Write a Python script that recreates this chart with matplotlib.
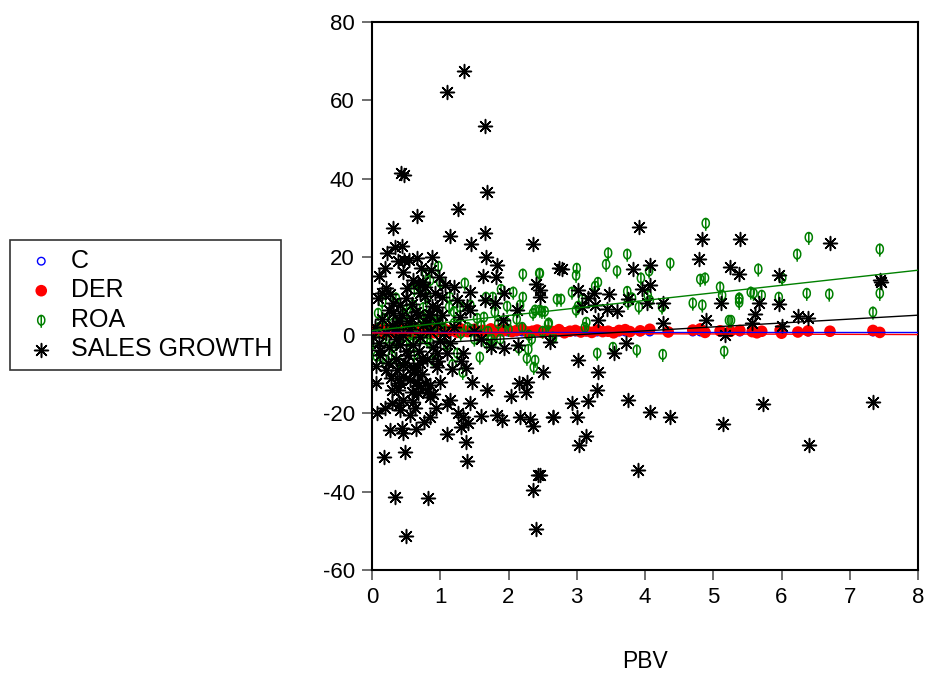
import matplotlib
matplotlib.use("Agg")
import matplotlib.pyplot as plt
from matplotlib.path import Path
import numpy as np

plt.rcParams["font.family"] = ["Liberation Sans", "DejaVu Sans"]
plt.rcParams["axes.unicode_minus"] = False

# ---- data ----
sg_pbv = [
    1.35, 1.10, 1.66, 1.68, 0.42, 0.47, 1.26, 0.66, 1.14, 1.66, 1.45, 2.36, 0.31, 0.34, 0.44,
    0.22, 0.47, 0.66, 0.88, 1.67, 0.19, 0.38, 0.54, 0.45, 0.72, 0.86, 1.83, 0.10, 0.98, 1.63,
    1.82, 0.67, 0.78, 1.07, 1.20, 2.40, 2.46, 2.74, 0.21, 0.15, 0.09, 0.70, 0.92, 1.44, 1.93,
    1.03, 1.25, 0.31, 0.41, 1.66, 1.80, 0.95, 1.39, 0.31, 0.44, 0.67, 0.85, 1.03, 1.29, 1.44,
    2.12, 1.92, 0.56, 0.81, 2.61, 0.02,
    3.91, 4.84, 5.39, 4.79, 2.78, 3.82, 4.07, 5.25, 5.38, 3.02, 3.47, 3.25, 3.96, 4.07, 3.75,
    3.16, 3.08, 3.27, 3.44, 3.59, 4.03, 4.26, 5.11, 2.46, 3.31, 4.26, 4.89, 3.72, 5.17, 3.55,
    3.02, 3.31, 2.51, 3.30, 2.93, 3.16, 3.75, 2.65, 3.00, 4.07, 4.37, 5.14, 3.14, 3.03, 3.90,
    2.46,
    6.71, 5.96, 7.46, 7.44, 5.67, 5.96, 5.61, 5.57, 6.24, 6.39, 6.01, 5.73, 7.34, 6.40,
    0.41, 0.12, 0.53, 0.73, 0.95, 1.10, 1.33, 1.74, 1.93, 2.14, 0.06, 0.23, 0.37, 0.45, 0.60,
    0.70, 0.95, 1.17, 1.38, 0.06, 0.28, 0.41, 0.56, 0.66, 0.78, 0.85, 1.47, 1.69, 2.15, 2.27,
    2.26, 2.04, 0.38, 0.59, 0.67, 0.81, 0.85, 0.45, 0.60, 0.29, 0.40, 1.14, 1.44, 0.07, 0.19,
    0.41, 0.63, 0.76, 0.94, 1.26, 1.33, 1.41, 1.60, 1.83, 1.90, 2.17, 2.32, 2.36, 2.65, 0.26,
    0.44, 0.45, 1.10, 1.30, 1.38, 0.18, 0.48, 1.39, 2.43, 0.34, 0.82, 2.36, 0.50, 2.40,
    0.05, 0.10, 0.15, 0.20, 0.25, 0.30, 0.35, 0.40, 0.45, 0.50, 0.55, 0.60, 0.65, 0.70, 0.75,
    0.80, 0.85, 0.90, 0.95, 1.00, 1.05, 1.15, 1.20, 1.30, 1.50, 1.60, 0.58, 0.62, 0.50, 0.73,
    0.35, 0.25, 0.12, 0.88, 0.52, 0.60, 0.78, 0.45, 0.68, 0.90, 1.00, 0.55, 0.65, 0.85, 0.30,
    0.20, 1.10, 0.33, 0.48, 0.57, 0.69, 0.83, 0.97, 0.27, 0.39, 0.62, 0.75,
]
sg = [
    67.5, 62.0, 53.4, 36.5, 41.4, 40.9, 32.2, 30.4, 25.3, 26.0, 23.2, 23.2, 27.3, 22.5, 22.7,
    21.0, 19.2, 19.7, 19.9, 19.9, 17.1, 18.9, 19.2, 16.1, 17.1, 16.6, 17.9, 15.1, 14.8, 15.1,
    14.8, 13.3, 12.3, 12.8, 12.3, 13.0, 11.5, 17.1, 12.0, 10.7, 9.5, 10.7, 10.7, 11.0, 10.7,
    9.7, 8.9, 8.2, 7.7, 8.9, 8.2, 7.2, 7.4, 5.6, 5.1, 5.1, 5.1, 5.1, 4.6, 6.4,
    6.4, 3.8, 3.1, 3.1, -1.8, -0.5,
    27.6, 24.5, 24.5, 19.4, 17.0, 16.8, 18.0, 17.4, 15.6, 11.5, 10.4, 10.7, 11.8, 12.8, 9.2,
    9.5, 7.2, 7.7, 6.6, 6.1, 8.2, 8.2, 8.2, 9.7, 3.8, 3.0, 3.8, -2.0, 0.0, -4.6,
    -6.4, -9.5, -9.5, -14.0, -17.4, -16.9, -16.6, -20.9, -20.9, -19.7, -20.9, -22.7, -25.8, -28.1, -34.5,
    -35.8,
    23.5, 15.3, 13.5, 14.2, 8.2, 7.9, 5.4, 3.1, 4.9, 4.3, 2.3, -17.6, -17.1, -28.1,
    -2.6, -3.8, -5.1, -5.9, -4.6, -4.6, -4.6, -3.1, -3.3, -2.6, -7.9, -7.2, -8.9, -7.7, -8.2,
    -7.2, -8.2, -8.7, -8.4, -12.3, -11.0, -12.3, -11.5, -12.0, -12.3, -12.8, -12.0, -14.0, -12.3, -12.0,
    -14.6, -15.6, -14.0, -14.6, -14.8, -14.6, -15.8, -16.6, -17.1, -17.4, -17.9, -16.6, -17.4, -19.9, -18.7,
    -19.2, -18.7, -22.2, -18.7, -19.9, -20.9, -22.5, -20.7, -20.4, -21.7, -20.9, -21.5, -23.2, -20.9, -24.3,
    -23.8, -25.0, -25.3, -23.5, -27.3, -31.2, -29.9, -32.2, -35.8, -41.4, -41.6, -39.6, -51.4, -49.6,
    2.0, -2.0, 4.0, 0.5, -3.0, 2.5, -1.0, 3.5, 0.0, -4.0, 1.5, -2.5, 6.0, -0.5, 2.5,
    -6.0, 1.0, -3.0, 3.0, -1.5, 0.5, -2.0, 2.0, -6.5, 1.0, -1.0, 8.0, -9.0, 9.5, -10.0,
    -6.0, 6.5, -5.0, 7.5, 12.0, 14.0, 10.0, -10.5, -13.0, -15.0, -12.0, -20.5, -24.0, -21.0, -14.0,
    -9.0, -17.5, 1.5, -7.0, 4.5, -4.0, 5.5, -6.5, 10.5, -11.5, -9.5, 13.5,
]

roa_pbv = [
    4.89, 3.46, 3.74, 4.37, 3.43, 3.00, 2.99, 3.59, 4.06, 3.94, 4.81, 4.88, 3.31, 3.27, 3.74,
    2.93, 2.77, 3.08, 3.81, 4.04, 4.07, 5.10, 5.13, 5.38, 3.02, 3.75, 3.91, 4.25, 4.70, 4.84,
    2.99, 2.49, 2.53, 3.14, 3.12, 5.23, 2.58, 2.65, 3.53, 3.30, 3.88, 4.26, 5.16, 2.46,
    6.40, 6.23, 7.44, 5.66, 6.01, 7.44, 7.34, 6.37, 6.70, 5.55, 5.59, 5.71, 5.38, 5.38, 5.96,
    5.26,
    0.97, 2.21, 2.45, 1.36, 1.89, 0.62, 0.79, 0.85, 1.14, 1.29, 0.60, 0.81, 1.67, 1.77, 2.21,
    1.98, 2.17, 1.44, 1.13, 1.64, 1.80, 2.39, 2.46, 2.36, 0.09, 0.18, 0.47, 0.81, 1.03, 1.54,
    1.98, 2.71, 2.59, 0.31, 2.12, 0.51, 2.07,
    0.07, 0.16, 0.29, 1.00, 1.25, 1.33, 1.58, 1.68, 1.77, 2.15, 2.29, 2.27, 2.39, 2.37, 2.34,
    0.02, 0.56, 0.81, 1.88, 2.65, 0.37, 0.56,
    0.05, 0.10, 0.20, 0.25, 0.30, 0.35, 0.40, 0.45, 0.50, 0.55, 0.60, 0.65, 0.70, 0.75, 0.80,
    0.85, 0.90, 0.95, 1.05, 1.10, 1.20, 1.30, 1.40, 1.50, 1.60, 1.70, 1.85, 2.00, 2.20, 2.30,
    0.15, 0.35, 0.70, 0.75, 1.00, 1.20, 0.90, 0.62, 0.40, 1.18, 1.45, 1.75, 2.50,
]
roa = [
    28.6, 21.0, 20.7, 18.4, 18.1, 17.1, 15.3, 16.4, 16.4, 14.6, 14.3, 14.6, 13.5, 12.5, 11.2,
    11.0, 9.2, 9.2, 9.5, 10.2, 8.9, 12.3, 10.2, 9.2, 7.4, 8.4, 7.2, 7.2, 8.2, 7.7,
    6.4, 6.1, 6.1, 3.3, 2.0, 3.8, 2.8, -0.5, -3.1, -4.6, -3.8, -4.9, -4.1, 15.8,
    25.0, 20.7, 22.0, 16.9, 14.6, 10.7, 5.9, 10.7, 10.5, 11.0, 10.7, 10.2, 9.5, 8.4, 9.7,
    3.8,
    17.6, 15.6, 15.8, 13.3, 11.7, 11.7, 15.6, 14.0, 9.7, 7.2, 7.7, 9.7, 9.7, 9.7, 9.7,
    7.4, 7.7, 7.7, 7.2, 4.6, 5.9, 6.4, 6.4, 5.6, 5.6, 4.3, 5.6, 3.8, 3.8, 4.3,
    3.1, 9.2, 3.1, 3.1, 4.1, 6.6, 11.0,
    -5.4, -5.9, -5.1, -0.5, -4.6, -9.5, -5.6, -2.0, -2.0, -3.3, -3.6, -5.9, -6.4, -8.2, -1.0,
    -1.8, -1.8, -1.3, -1.0, -0.8, -2.0, -3.1,
    0.5, 2.0, -1.0, 1.5, -3.0, 0.5, 2.5, -0.5, 1.0, 3.5, 0.0, 2.0, -1.0, 4.5, 1.0,
    -2.0, 2.5, 5.5, 1.5, -2.5, 3.0, 0.5, 2.0, -1.0, 2.5, 1.0, 3.0, 1.5, 2.0, 0.0,
    8.5, 9.5, 12.5, 7.0, 13.5, 6.0, -6.5, -5.0, -7.0, -7.5, 1.5, -1.0, 1.0,
]

der_pbv = [
    0.02, 0.05, 0.08, 0.10, 0.13, 0.16, 0.20, 0.23, 0.26, 0.30, 0.33, 0.36, 0.40, 0.43, 0.46,
    0.50, 0.53, 0.56, 0.60, 0.63, 0.66, 0.70, 0.73, 0.76, 0.80, 0.84, 0.88, 0.92, 0.96, 1.00,
    1.05, 1.10, 1.15, 1.20, 1.25, 1.30, 1.35, 1.40, 1.45, 1.50, 1.56, 1.62, 1.68, 1.74, 1.80,
    1.86, 1.92, 1.98, 2.05, 2.12, 2.20, 2.28, 2.35, 2.42, 2.50, 2.58, 2.66, 2.74, 2.82, 2.90,
    2.98, 3.06, 3.14, 3.22, 3.30, 3.38, 3.46, 3.54, 3.62,
    3.71, 3.78, 3.93, 4.07, 4.34, 4.70, 4.81, 4.88, 5.10, 5.25, 5.39, 5.57, 5.64, 5.71, 5.98,
    6.00, 6.24, 6.39, 6.71, 7.34, 7.44,
]
der = [
    1.2, 0.6, 1.5, 0.9, 1.3, 0.5, 1.1, 1.6, 0.8, 1.4, 0.7, 1.2, 1.7, 0.9, 1.3,
    0.6, 1.5, 1.0, 1.8, 0.7, 1.2, 1.4, 0.8, 1.6, 1.1, 0.9, 1.5, 0.6, 1.3, 1.0,
    1.7, 0.8, 1.2, 1.4, 0.7, 1.6, 1.1, 0.9, 1.3, 1.5, 0.8, 1.2, 1.0, 1.6, 0.7,
    1.3, 1.1, 1.4, 0.9, 1.2, 1.5, 0.8, 1.0, 1.3, 0.7, 1.1, 0.9, 1.4, 0.6, 1.0,
    1.2, 0.8, 1.1, 0.7, 1.3, 0.9, 1.0, 0.6, 1.2,
    1.4, 0.9, 1.1, 1.5, 0.8, 1.3, 1.6, 0.7, 1.1, 1.0, 1.2, 0.9, 0.6, 1.0, 1.3,
    0.5, 0.8, 1.1, 1.0, 1.2, 0.7,
]
c_level = 0.8  # constant term C

# fitted lines: (intercept, slope)
fit_c = (0.7, 0.0)
fit_der = (0.55, -0.05)
fit_roa = (1.15, 1.93)
fit_sg = (-2.9, 1.0)

x_min, x_max = 0, 8
y_min, y_max = -60, 80


def phi_marker():
    # open ellipse with a vertical stroke through it, like EViews' phi symbol
    t = np.linspace(0, 2 * np.pi, 33)
    ring = np.column_stack([0.75 * np.cos(t), np.sin(t)])
    verts = list(ring) + [(0, -1.6), (0, 1.1)]
    codes = [Path.MOVETO] + [Path.LINETO] * (len(ring) - 1) + [Path.MOVETO, Path.LINETO]
    return Path(verts, codes)


def main():
    fig = plt.figure(figsize=(9.26, 6.77), dpi=100)
    ax = fig.add_axes([372 / 926, 1 - 570 / 677, 546 / 926, 548 / 677])

    c_vals = np.full(len(der_pbv), c_level)
    h_c = ax.scatter(der_pbv, c_vals, s=30, facecolors="none", edgecolors="blue",
                     linewidths=1.0, label="C", zorder=2)
    h_der = ax.scatter(der_pbv, der, s=70, color="red", edgecolors="none",
                       label="DER", zorder=3)
    h_roa = ax.scatter(roa_pbv, roa, s=120, marker=phi_marker(), facecolors="none",
                       edgecolors="green", linewidths=1.1, label="ROA", zorder=4)
    h_sg = ax.scatter(sg_pbv, sg, s=100, marker=(8, 2, 0), color="black",
                      linewidths=1.1, label="SALES GROWTH", zorder=5)

    # regression lines
    xs = np.array([x_min, x_max])
    for (b0, b1), col in [(fit_c, "blue"), (fit_der, "red"),
                          (fit_roa, "green"), (fit_sg, "black")]:
        ax.plot(xs, b0 + b1 * xs, color=col, linewidth=1.0, zorder=6)

    ax.set_xlim(x_min, x_max)
    ax.set_ylim(y_min, y_max)
    ax.set_xticks(range(0, 9))
    ax.set_yticks(range(-60, 81, 20))
    ax.tick_params(axis="both", direction="out", length=7.5, width=1.2,
                   color="#555555", labelsize=16, pad=5)
    for sp in ax.spines.values():
        sp.set_linewidth(1.5)
    ax.set_xlabel("PBV", fontsize=16.5, labelpad=30)

    leg = fig.legend(handles=[h_c, h_der, h_roa, h_sg], loc="center left",
                     bbox_to_anchor=(10 / 926, 1 - 305 / 677),
                     bbox_transform=fig.transFigure, fontsize=18, frameon=True,
                     fancybox=False, edgecolor="black", borderaxespad=0,
                     handletextpad=0.3, labelspacing=0.22, borderpad=0.35,
                     handlelength=1.8, scatterpoints=1)
    leg.get_frame().set_linewidth(1.2)

    fig.savefig("out.png", dpi=100)


if __name__ == "__main__":
    main()
